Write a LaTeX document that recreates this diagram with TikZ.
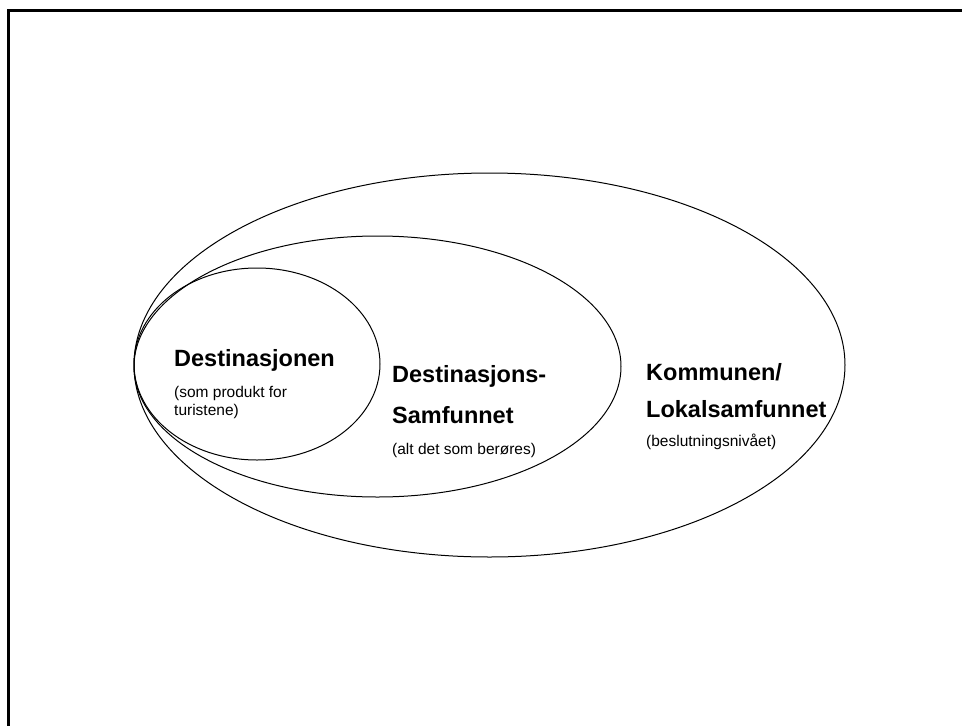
\documentclass[tikz,border=0pt]{standalone}
\usepackage{fontspec}
\setmainfont{Liberation Sans}
\usetikzlibrary{shapes.geometric}
\begin{document}
\begin{tikzpicture}[x=1pt,y=-1pt,
  ring/.style={draw, ellipse, inner sep=0pt, outer sep=0pt, line width=1pt},
  heading/.style={anchor=base west, inner sep=0pt, font=\fontsize{23.5}{28}\selectfont\bfseries},
  note/.style={anchor=base west, inner sep=0pt, font=\fontsize{15.5}{18}\selectfont}]
\useasboundingbox (0,0) rectangle (962,726);
% page frame (top and left edges)
\draw[line width=3pt] (8.5,726) -- (8.5,10) -- (962,10);

% nested circles, all touching at the left
\node[ring, minimum width=711pt, minimum height=384pt] (outer)  at (489.5,365) {};
\node[ring, minimum width=487pt, minimum height=261pt] (middle) at (377.5,366.5) {};
\node[ring, minimum width=246pt, minimum height=192pt] (inner)  at (257,364) {};

% innermost level
\node[heading] (dest)   at (174,366) {Destinasjonen};
\node[note]    (destA)  at (174,397) {(som produkt for};
\node[note]    (destB)  at (174,415) {turistene)};

% middle level
\node[heading] (samA)   at (392,382) {Destinasjons-};
\node[heading] (samB)   at (392,423) {Samfunnet};
\node[note]    (samC)   at (392,454) {(alt det som berøres)};

% outer level
\node[heading] (komA)   at (646,380) {Kommunen/};
\node[heading] (komB)   at (646,417) {Lokalsamfunnet};
\node[note]    (komC)   at (646,446) {(beslutningsnivået)};
\end{tikzpicture}
\end{document}
